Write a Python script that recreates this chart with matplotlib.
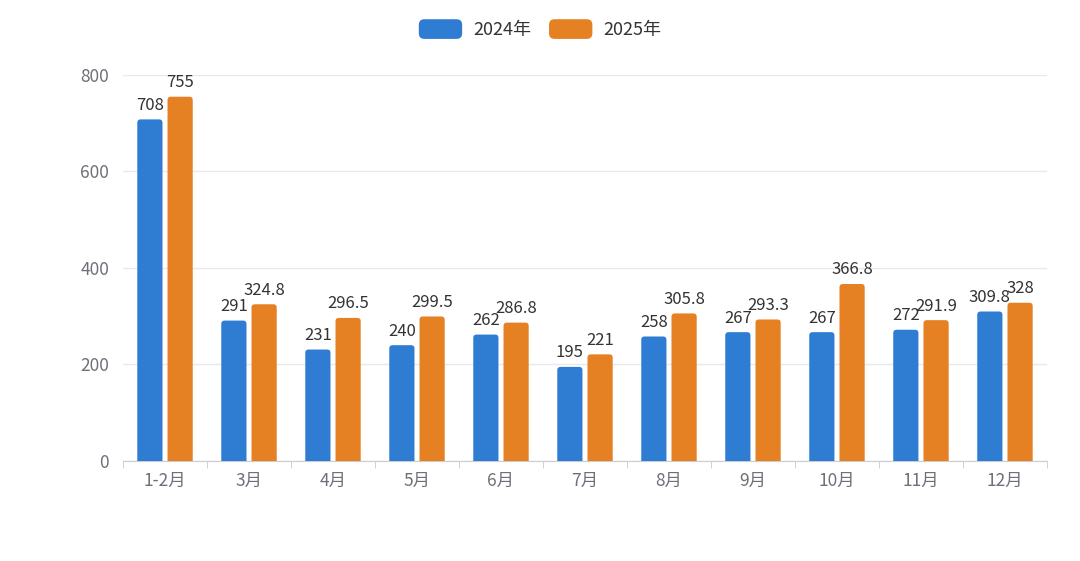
import matplotlib.pyplot as plt
from matplotlib.patches import FancyBboxPatch, Patch
from matplotlib.legend_handler import HandlerPatch

plt.rcParams['font.family'] = ['Noto Sans CJK SC', 'DejaVu Sans']

# 数据
months = ["1-2月", "3月", "4月", "5月", "6月", "7月", "8月", "9月", "10月", "11月", "12月"]
v2024 = [708, 291, 231, 240, 262, 195, 258, 267, 267, 272, 309.8]
v2025 = [755, 324.8, 296.5, 299.5, 286.8, 221, 305.8, 293.3, 366.8, 291.9, 328]
lab2024 = ["708", "291", "231", "240", "262", "195", "258", "267", "267", "272", "309.8"]
lab2025 = ["755", "324.8", "296.5", "299.5", "286.8", "221", "305.8", "293.3", "366.8", "291.9", "328"]

blue = "#2E7DD3"
orange = "#E58023"


class RoundHandler(HandlerPatch):
    def create_artists(self, legend, orig_handle, xdescent, ydescent, width, height, fontsize, trans):
        p = FancyBboxPatch((-xdescent, -ydescent), width, height,
                           boxstyle="round,pad=0,rounding_size=4",
                           fc=orig_handle.get_facecolor(), ec="none", transform=trans)
        return [p]


fig = plt.figure(figsize=(10.8, 5.61), dpi=100)
ax = fig.add_axes([0.1139, 0.1783, 0.8555, 0.688])

w = 0.3
off = 0.18
x = list(range(len(months)))

for series, labels, color, d in [(v2024, lab2024, blue, -off), (v2025, lab2025, orange, off)]:
    bars = ax.bar([i + d for i in x], series, width=w, color=color, alpha=0)
    for b, lab in zip(bars, labels):
        p = FancyBboxPatch((b.get_x(), -12), b.get_width(), b.get_height() + 12,
                           boxstyle="round,pad=0,rounding_size=0.04",
                           mutation_aspect=170, fc=color, ec="none", zorder=3)
        ax.add_patch(p)
        ax.annotate(lab, (b.get_x() + b.get_width() / 2, b.get_height()),
                    xytext=(0, 4), textcoords="offset points",
                    ha="center", va="bottom", fontsize=12, color="#333333")

ax.set_xlim(-0.5, len(months) - 0.5)
ax.set_ylim(0, 800)
ax.set_yticks([0, 200, 400, 600, 800])
ax.yaxis.grid(True, color="#E6E9EF", linewidth=1)
ax.set_axisbelow(True)
for s in ["top", "right", "left"]:
    ax.spines[s].set_visible(False)
ax.spines["bottom"].set_color("#CCCCCC")
ax.tick_params(axis="y", length=0, labelsize=12.5, labelcolor="#6E7079", pad=10)
ax.set_xticks(x)
ax.set_xticklabels(months, fontsize=12.5, color="#6E7079")
ax.tick_params(axis="x", length=0, pad=8)
ax.set_xticks([i - 0.5 for i in range(len(months) + 1)], minor=True)
ax.tick_params(axis="x", which="minor", length=5, color="#CCCCCC")

handles = [Patch(fc=blue, ec="none", label="2024年"), Patch(fc=orange, ec="none", label="2025年")]
fig.legend(handles=handles, loc="center", bbox_to_anchor=(0.5, 0.948), ncol=2, frameon=False,
           fontsize=13, handlelength=2.4, handleheight=1.3, columnspacing=1.0, handletextpad=0.6,
           labelcolor="#333333", handler_map={Patch: RoundHandler()})

fig.savefig("out.png", dpi=100)
